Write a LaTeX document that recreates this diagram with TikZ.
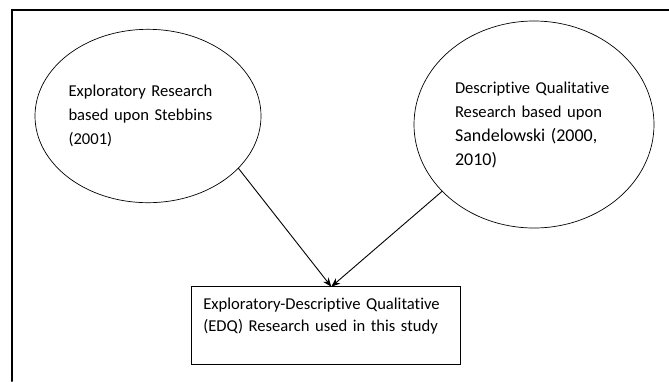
\documentclass[tikz,border=0pt]{standalone}
\usepackage{fontspec}
\setmainfont{Carlito}[Ligatures=NoCommon]
\usepackage{tikz}
\usepackage{tkz-euclide}
\usetikzlibrary{shapes.geometric,arrows.meta}
\tikzset{
	bubble/.style={draw, ellipse, line width=0.7pt, inner sep=0pt, outer sep=0pt, align=left, font=\fontsize{16.6}{24}\selectfont},
	result/.style={draw, rectangle, line width=0.9pt, inner sep=0pt, outer sep=0pt, align=left, font=\fontsize{16.6}{21.7}\selectfont},
	link/.style={line width=0.9pt, -{Stealth[length=9pt,width=7pt]}}
}

\begin{document}
\begin{tikzpicture}[x=1pt, y=-1pt]

	\useasboundingbox (0,0) rectangle (669,381);

	\tkzDefPoint(11.7,381){A}
	\tkzDefPoint(11.7,10){B}
	\tkzDefPoint(669,10){C}
	\tkzDrawPolySeg[line width=2pt](A,B,C)

	\node[bubble, minimum width=226pt, minimum height=173.4pt, text width=159pt] (expl) at (148,116)
		{Exploratory Research\\based upon Stebbins\\(2001)};
	\node[bubble, minimum width=240pt, minimum height=207pt, text width=158pt] (desc) at (534,124.5)
		{Descriptive Qualitative\\Research based upon\\{\fontsize{18}{25}\selectfont Sandelowski (2000,}\\{\fontsize{18}{25}\selectfont 2010)}};
	\node[result, minimum width=268.3pt, minimum height=77.6pt, text width=245pt, anchor=north] (edq) at (325.8,286.7)
		{Exploratory-Descriptive Qualitative\\(EDQ) Research used in this study\\~};

	\coordinate (tip) at ([xshift=5.5pt]edq.north);
	\draw[link] (expl.-30.4) -- (tip);
	\draw[link] (desc.-144) -- (tip);

\end{tikzpicture}
\end{document}
